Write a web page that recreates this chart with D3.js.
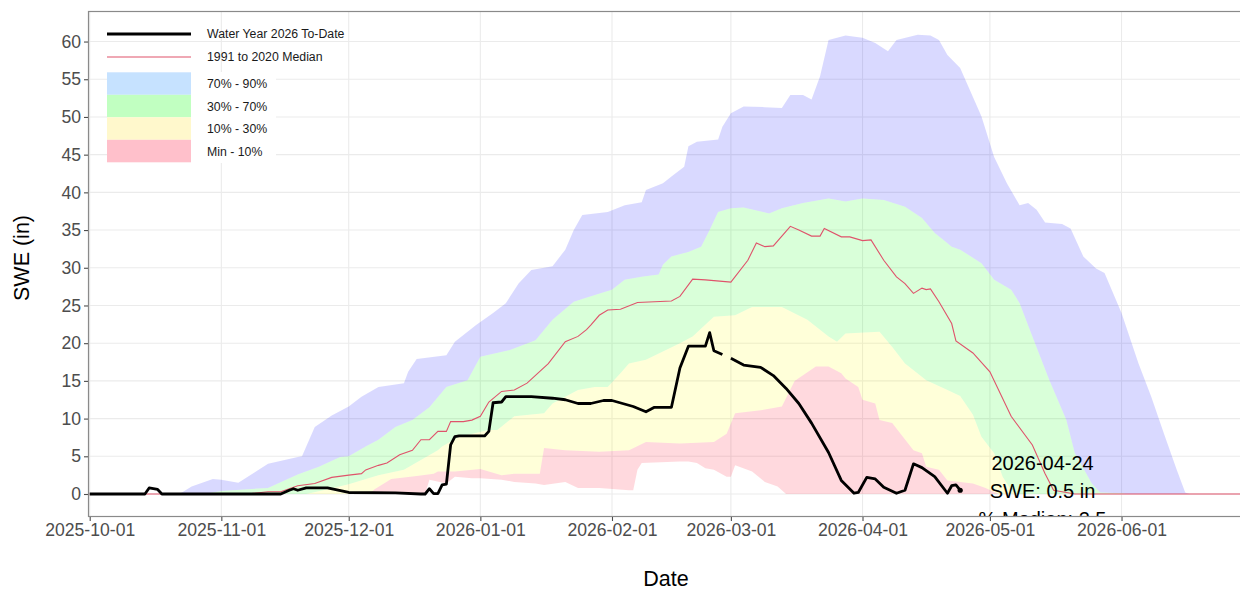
<!doctype html>
<html lang="en">
<head>
	<meta charset="UTF-8">
	<title>SWE Water Year 2026</title>
	<style>
		body { margin: 0; background: #fff; }
		svg { display: block; font-family: "Liberation Sans", Arial, sans-serif; }
		.tick-label { fill: #4d4d4d; font-size: 17.6px; }
		.axis-title { fill: #000; font-size: 21.5px; }
		.legend-label { fill: #1a1a1a; font-size: 12.3px; }
		.note { fill: #000; font-size: 20px; text-anchor: middle; }
	</style>
</head>
<body>
	<script src="https://cdn.jsdelivr.net/npm/d3@7"></script>
	<script>
		// day offsets are counted from 2025-10-01
		var startDate = new Date(Date.UTC(2025, 9, 1));

		var tickDates = ['2025-10-01', '2025-11-01', '2025-12-01', '2026-01-01', '2026-02-01',
			'2026-03-01', '2026-04-01', '2026-05-01', '2026-06-01'];
		var yTicks = [0, 5, 10, 15, 20, 25, 30, 35, 40, 45, 50, 55, 60];

		// 90th percentile
		var p90Days = [0, 21, 22, 24, 29, 31, 35, 42, 49, 50, 53, 57, 61, 64, 68, 74, 75, 77, 84, 86,
			91, 95, 98, 101, 104, 109, 112, 114, 116, 122, 126, 130, 131, 135, 137, 140, 141, 143, 148, 149,
			151, 154, 159, 163, 165, 168, 170, 172, 174, 178, 182, 185, 188, 190, 195, 198, 200, 202, 205, 210,
			213, 216, 219, 221, 223, 225, 229, 231, 234, 237, 239, 243, 247, 250, 253, 256, 258, 259, 275];
		var p90Vals = [0, 0, 0.3, 1.0, 2.0, 1.9, 1.5, 4.0, 4.9, 5.0, 8.9, 10.4, 11.6, 12.9, 14.2, 14.7, 16.2, 17.9, 18.4, 20.2,
			22.4, 24.0, 25.3, 27.9, 29.7, 30.2, 32.4, 35.0, 37.0, 37.4, 38.3, 38.7, 40.3, 41.2, 42.1, 43.4, 46.1, 46.7, 47.0, 48.7,
			50.5, 51.4, 51.3, 51.2, 52.9, 52.9, 52.3, 55.4, 60.2, 60.8, 60.5, 59.8, 58.7, 60.2, 60.9, 60.8, 60.2, 58.2, 56.5, 50.1,
			44.7, 41.2, 38.3, 38.6, 37.7, 36.0, 35.8, 35.2, 31.5, 29.9, 29.3, 24.0, 17.3, 12.9, 8.0, 3.2, 0.2, 0, 0];

		// 70th percentile
		var p70Days = [0, 27, 31, 42, 49, 54, 59, 61, 65, 68, 72, 76, 80, 84, 89, 92, 99, 105, 109, 114,
			119, 123, 126, 130, 134, 135, 137, 141, 144, 146, 148, 151, 154, 160, 163, 168, 174, 178, 182, 187,
			192, 196, 199, 201, 203, 205, 210, 213, 217, 219, 222, 226, 230, 232, 236, 238, 243, 244, 275];
		var p70Vals = [0, 0, 0.4, 0.8, 2.6, 3.6, 4.9, 5.0, 6.3, 7.2, 8.9, 9.8, 11.5, 14.2, 15.1, 18.2, 19.1, 20.4, 23.1, 25.5,
			26.4, 27.1, 28.4, 28.8, 29.1, 30.4, 31.5, 32.1, 32.8, 35.0, 37.4, 37.9, 38.0, 37.2, 37.9, 38.6, 39.2, 38.8, 39.2, 39.0,
			38.1, 36.6, 34.6, 33.7, 32.8, 32.4, 30.6, 28.4, 27.1, 25.3, 20.9, 15.1, 9.8, 5.4, 1.4, 0.2, 0.1, 0, 0];

		// 30th percentile
		var p30Days = [0, 51, 55, 61, 68, 74, 78, 82, 83, 87, 94, 96, 100, 107, 109, 115, 119, 122, 125, 127,
			131, 139, 142, 147, 152, 156, 163, 169, 174, 176, 178, 186, 189, 192, 197, 202, 205, 208, 210, 213,
			215, 217, 218, 275];
		var p30Vals = [0, 0, 0.5, 1.3, 2.5, 3.2, 4.5, 5.8, 6.3, 7.6, 8.5, 8.5, 10.3, 10.7, 12.0, 13.8, 14.2, 14.2, 16.0, 17.3,
			17.8, 20.0, 20.9, 23.5, 23.7, 24.8, 24.8, 23.1, 20.9, 20.2, 21.3, 21.5, 19.5, 17.3, 15.1, 13.8, 13.0, 10.5, 7.6, 5.4,
			2.3, 0.5, 0, 0];

		// 10th percentile
		var p10Days = [0, 66, 67, 71, 77, 81, 82, 86, 92, 97, 100, 106, 107, 112, 120, 127, 131, 139, 147, 150,
			152, 158, 163, 166, 171, 174, 177, 178, 181, 182, 185, 186, 189, 190, 194, 196, 197, 200, 202, 208,
			211, 214, 275];
		var p10Vals = [0, 0, 0.6, 2.0, 2.4, 2.7, 3.0, 3.0, 3.3, 2.5, 2.7, 2.7, 6.1, 5.8, 5.6, 5.8, 6.9, 6.7, 6.9, 8.0,
			10.7, 11.1, 11.6, 15.0, 16.9, 16.9, 16.0, 15.3, 14.2, 12.5, 12.0, 9.8, 9.4, 8.7, 5.8, 5.4, 3.6, 3.2, 1.8, 1.4,
			0.8, 0, 0];

		// minimum
		var minDays = [0, 79, 80, 84, 86, 90, 92, 97, 100, 105, 107, 112, 115, 120, 127, 128, 129, 130, 139, 141,
			143, 145, 147, 150, 151, 152, 156, 159, 162, 164, 275];
		var minVals = [0, 0, 1.9, 1.4, 2.3, 2.1, 2.1, 1.9, 1.6, 1.4, 1.2, 1.6, 0.8, 0.8, 0.5, 0.5, 3.2, 4.1, 4.3, 4.3,
			4.1, 3.4, 3.2, 2.3, 2.3, 3.8, 3.0, 1.6, 1.0, 0, 0];

		// 1991 to 2020 median
		var medianDays = [0, 37, 42, 45, 49, 53, 57, 61, 64, 65, 68, 70, 73, 76, 78, 80, 82, 84, 85, 88,
			90, 92, 94, 97, 100, 103, 108, 112, 115, 117, 118, 120, 122, 125, 129, 137, 139, 142, 145, 151,
			155, 157, 159, 161, 165, 167, 170, 172, 173, 177, 179, 182, 184, 187, 190, 192, 194, 196, 197, 198,
			200, 203, 204, 208, 212, 217, 222, 225, 227, 230, 232, 275];
		var medianVals = [0, 0, 0.3, 0.3, 1.1, 1.4, 2.2, 2.5, 2.7, 3.2, 3.8, 4.1, 5.2, 5.8, 7.2, 7.2, 8.3, 8.3, 9.6, 9.6,
			9.8, 10.3, 12.2, 13.6, 13.8, 14.7, 17.3, 20.2, 20.9, 21.8, 22.4, 23.7, 24.4, 24.5, 25.4, 25.6, 26.2, 28.5, 28.4, 28.1,
			31.0, 33.3, 32.8, 32.9, 35.5, 35.0, 34.2, 34.2, 35.2, 34.1, 34.1, 33.6, 33.7, 31.0, 28.8, 27.9, 26.6, 27.3, 27.1, 27.2,
			25.5, 22.6, 20.3, 18.7, 16.2, 10.3, 6.5, 2.7, 0.5, 0.2, 0, 0];

		// Water Year 2026 to date (null = missing day)
		var wyDays = [0, 13, 14, 16, 17, 45, 47, 48, 49, 51, 56, 61, 72, 78, 79, 80, 81, 82, 83, 84,
			85, 86, 87, 93, 94, 95, 97, 98, 104, 109, 112, 115, 118, 121, 123, 128, 131, 133, 137, 139,
			141, 145, 146, 147, 149, 150, 151, 154, 158, 161, 164, 167, 170, 174, 177, 180, 181, 183, 185, 187,
			190, 192, 194, 196, 199, 202, 203, 204, 205];
		var wyVals = [0, 0, 0.8, 0.6, 0, 0, 0.5, 0.7, 0.5, 0.8, 0.8, 0.2, 0.15, 0, 0, 0.7, 0.05, 0.05, 1.2, 1.3,
			6.5, 7.6, 7.7, 7.7, 8.3, 12.1, 12.2, 12.9, 12.9, 12.7, 12.5, 12.0, 12.0, 12.4, 12.4, 11.6, 10.9, 11.5, 11.5, 16.7,
			19.6, 19.6, 21.4, 19.0, 18.5, null, 18.0, 17.1, 16.8, 15.7, 14.0, 12.0, 9.4, 5.5, 1.8, 0.1, 0.2, 2.2, 2.0, 0.9,
			0.1, 0.5, 4.0, 3.5, 2.3, 0.1, 1.1, 1.2, 0.5];

		var noteLines = ['2026-04-24', 'SWE: 0.5 in', '% Median: 2.5'];
		var noteDay = 224.4;

		var w = 1240,
			h = 589,
			panel = { left: 88, right: 1240, top: 11, bottom: 517 };

		var dayToDate = function(d) {
			return new Date(startDate.getTime() + d * 864e5);
		};

		var xScale = d3.scaleUtc()
			.domain([dayToDate(-0.4), dayToDate(270.9)])
			.range([panel.left, panel.right]);

		var yScale = d3.scaleLinear()
			.domain([-3.05, 64.05])
			.range([panel.bottom, panel.top]);

		var svg = d3.select('body').append('svg')
			.attr('width', w)
			.attr('height', h);

		svg.append('defs').append('clipPath')
			.attr('id', 'panelClip')
			.append('rect')
			.attr('x', panel.left)
			.attr('y', panel.top)
			.attr('width', panel.right - panel.left)
			.attr('height', panel.bottom - panel.top);

		// grid
		var grid = svg.append('g');
		grid.selectAll('.hgrid').data(yTicks).enter().append('line')
			.attr('x1', panel.left).attr('x2', panel.right)
			.attr('y1', function(d) { return yScale(d); })
			.attr('y2', function(d) { return yScale(d); })
			.attr('stroke', '#ebebeb').attr('stroke-width', 1.1);
		grid.selectAll('.vgrid').data(tickDates).enter().append('line')
			.attr('x1', function(d) { return xScale(new Date(d)); })
			.attr('x2', function(d) { return xScale(new Date(d)); })
			.attr('y1', panel.top).attr('y2', panel.bottom)
			.attr('stroke', '#ebebeb').attr('stroke-width', 1.1);

		var plot = svg.append('g').attr('clip-path', 'url(#panelClip)');

		var line = d3.line()
			.defined(function(p) { return p[1] != null; })
			.x(function(p) { return xScale(dayToDate(p[0])); })
			.y(function(p) { return yScale(p[1]); });

		var pairs = function(days, vals) {
			return days.map(function(d, i) { return [d, vals[i]]; });
		};

		/**
		* ribbon between a lower and an upper percentile
		*/
		var ribbon = function(upDays, upVals, loDays, loVals, fill) {
			var pts = pairs(upDays, upVals).concat(pairs(loDays, loVals).reverse());
			plot.append('path')
				.attr('d', line(pts) + 'Z')
				.attr('fill', fill)
				.attr('fill-opacity', 0.15)
				.attr('stroke', 'none');
		};

		ribbon(p90Days, p90Vals, p70Days, p70Vals, '#0000ff');
		ribbon(p70Days, p70Vals, p30Days, p30Vals, '#00ff00');
		ribbon(p30Days, p30Vals, p10Days, p10Vals, '#ffff00');
		ribbon(p10Days, p10Vals, minDays, minVals, '#ff0022');

		plot.append('path')
			.attr('d', line(pairs(medianDays, medianVals)))
			.attr('fill', 'none')
			.attr('stroke', '#DF536B')
			.attr('stroke-width', 1.1);

		plot.append('path')
			.attr('d', line(pairs(wyDays, wyVals)))
			.attr('fill', 'none')
			.attr('stroke', '#000')
			.attr('stroke-width', 2.8)
			.attr('stroke-linejoin', 'round');

		var last = wyDays.length - 1;
		plot.append('circle')
			.attr('cx', xScale(dayToDate(wyDays[last])))
			.attr('cy', yScale(wyVals[last]))
			.attr('r', 2.6)
			.attr('fill', '#000');

		plot.selectAll('.note').data(noteLines).enter().append('text')
			.attr('class', 'note')
			.attr('x', xScale(dayToDate(noteDay)))
			.attr('y', function(d, i) { return 469.5 + i * 28; })
			.text(function(d) { return d; });

		// panel border
		svg.append('rect')
			.attr('x', panel.left + 0.5).attr('y', panel.top + 0.5)
			.attr('width', panel.right - panel.left + 2)
			.attr('height', panel.bottom - panel.top - 1)
			.attr('fill', 'none')
			.attr('stroke', '#8a8a8a')
			.attr('stroke-width', 1.2);

		// axes
		var yAxis = d3.axisLeft(yScale).tickValues(yTicks).tickSize(4).tickPadding(3);
		var yG = svg.append('g').attr('transform', 'translate(' + panel.left + ',0)').call(yAxis);
		var xAxis = d3.axisBottom(xScale)
			.tickValues(tickDates.map(function(d) { return new Date(d); }))
			.tickFormat(d3.utcFormat('%Y-%m-%d'))
			.tickSize(4).tickPadding(3);
		var xG = svg.append('g').attr('transform', 'translate(0,' + panel.bottom + ')').call(xAxis);

		[yG, xG].forEach(function(g) {
			g.select('.domain').remove();
			g.selectAll('.tick line').attr('stroke', '#4d4d4d').attr('stroke-width', 1.1);
			g.selectAll('.tick text').attr('class', 'tick-label').attr('font-family', null).attr('font-size', null);
		});

		svg.append('text')
			.attr('class', 'axis-title')
			.attr('x', 666).attr('y', 586)
			.attr('text-anchor', 'middle')
			.text('Date');

		svg.append('text')
			.attr('class', 'axis-title')
			.attr('transform', 'translate(29,258) rotate(-90)')
			.attr('text-anchor', 'middle')
			.text('SWE (in)');

		// legend
		var legend = svg.append('g');
		legend.append('rect')
			.attr('x', 107).attr('y', 72).attr('width', 169).attr('height', 91)
			.attr('fill', '#fff');
		legend.append('line')
			.attr('x1', 107).attr('x2', 191).attr('y1', 34).attr('y2', 34)
			.attr('stroke', '#000').attr('stroke-width', 3.2);
		legend.append('line')
			.attr('x1', 107).attr('x2', 191).attr('y1', 57).attr('y2', 57)
			.attr('stroke', '#DF536B').attr('stroke-width', 1.1);

		var legendFills = [
			{ label: '70% - 90%', color: '#c6e2ff' },
			{ label: '30% - 70%', color: '#c1ffc1' },
			{ label: '10% - 30%', color: '#fff8cc' },
			{ label: 'Min - 10%', color: '#ffc0cb' }
		];
		legend.selectAll('.key').data(legendFills).enter().append('rect')
			.attr('x', 107).attr('y', function(d, i) { return 72.3 + i * 22.5; })
			.attr('width', 84).attr('height', 22.5)
			.attr('fill', function(d) { return d.color; });

		var legendLabels = ['Water Year 2026 To-Date', '1991 to 2020 Median'].concat(legendFills.map(function(d) { return d.label; }));
		var legendY = [38.3, 61, 88.2, 110.6, 133.2, 155.6];
		legend.selectAll('.legend-label').data(legendLabels).enter().append('text')
			.attr('class', 'legend-label')
			.attr('x', 207)
			.attr('y', function(d, i) { return legendY[i]; })
			.text(function(d) { return d; });
	</script>
</body>
</html>
